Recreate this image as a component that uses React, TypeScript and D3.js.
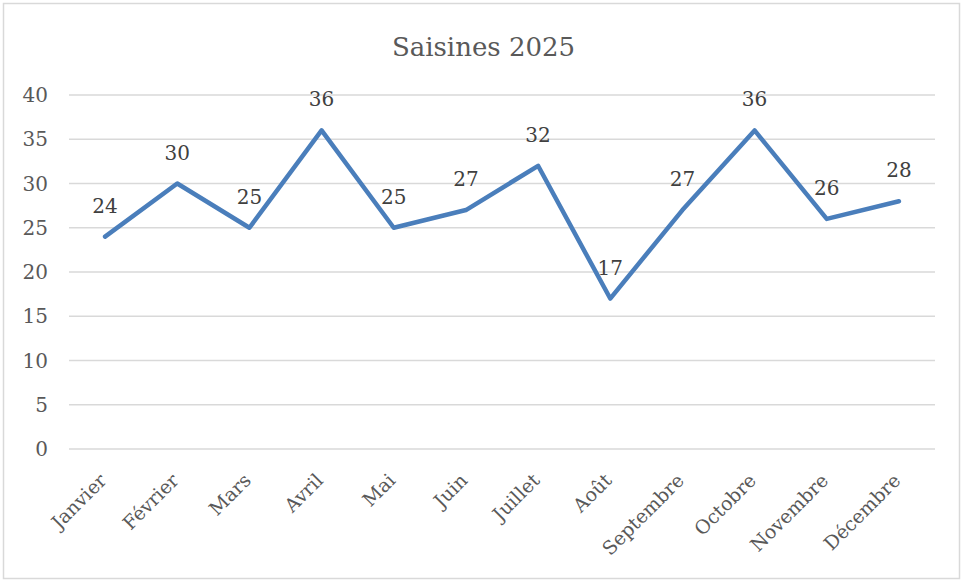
import React from 'react';
import * as d3 from 'd3';

// Données
const mois = ['Janvier', 'Février', 'Mars', 'Avril', 'Mai', 'Juin', 'Juillet', 'Août', 'Septembre', 'Octobre', 'Novembre', 'Décembre'];
const saisines = [24, 30, 25, 36, 25, 27, 32, 17, 27, 36, 26, 28];
const yTicks = [0, 5, 10, 15, 20, 25, 30, 35, 40];

const W = 963;
const H = 581;
const margin = { top: 95, right: 28, bottom: 132, left: 69 };
const font = '"DejaVu Serif", serif';

const App = () => {
  const x = d3
    .scalePoint<string>()
    .domain(mois)
    .range([margin.left, W - margin.right])
    .padding(0.5);

  const y = d3
    .scaleLinear()
    .domain([0, 40])
    .range([H - margin.bottom, margin.top]);

  const line = d3
    .line<number>()
    .x((d, i) => x(mois[i]) as number)
    .y(d => y(d));

  return (
    <svg width={W} height={H} style={{ position: 'absolute', left: 0, top: 0 }}>
      <rect x={0} y={0} width={W} height={H} fill="#fff" />
      <rect x={3.5} y={3.5} width={W - 7} height={H - 6} fill="none" stroke="#d9d9d9" strokeWidth={1.5} />

      <text x={W / 2 + 2} y={56} textAnchor="middle" fontFamily={font} fontSize={26} fill="#595959">
        Saisines 2025
      </text>

      {/* grille + graduations Y */}
      {yTicks.map(t => (
        <g key={t}>
          <line x1={margin.left} x2={W - margin.right} y1={y(t)} y2={y(t)} stroke="#d9d9d9" strokeWidth={1.5} />
          <text x={48} y={y(t)} dy="0.35em" textAnchor="end" fontFamily={font} fontSize={20} fill="#595959">
            {t}
          </text>
        </g>
      ))}

      {/* libellés des mois */}
      {mois.map(m => {
        const px = (x(m) as number) - 2;
        const py = H - margin.bottom + 28;
        return (
          <text
            key={m}
            transform={`translate(${px},${py}) rotate(-45)`}
            textAnchor="end"
            dy="0.35em"
            fontFamily={font}
            fontSize={19}
            fill="#595959"
          >
            {m}
          </text>
        );
      })}

      <path d={line(saisines) ?? ''} fill="none" stroke="#4a7ebb" strokeWidth={4.5} strokeLinejoin="round" strokeLinecap="round" />

      {/* étiquettes de données */}
      {saisines.map((v, i) => (
        <text key={i} x={x(mois[i]) as number} y={y(v) - 24} textAnchor="middle" fontFamily={font} fontSize={20} fill="#404040">
          {v}
        </text>
      ))}
    </svg>
  );
};

export default App;
